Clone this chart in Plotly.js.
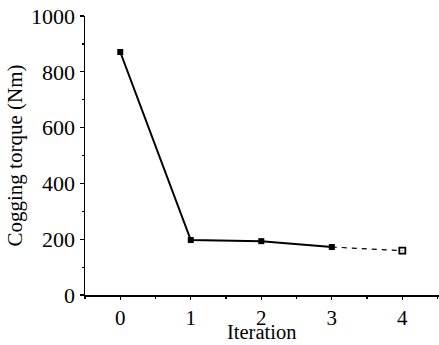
<!DOCTYPE html>
<html><head><meta charset="utf-8">
<script src="https://cdn.plot.ly/plotly-3.0.1.min.js"></script>
<style>html,body{margin:0;padding:0;background:#fff}#c{width:439px;height:345px}</style>
</head><body><div id="c"></div>
<script>
const iterSolid = [0, 1, 2, 3];
const torqueSolid = [871, 197, 193, 172];
const iterDashed = [3, 4];
const torqueDashed = [172, 159];
const xTicks = [0, 1, 2, 3, 4];
const yTicks = [0, 200, 400, 600, 800, 1000];

const font = {family: 'Liberation Serif, Times New Roman, serif', color: '#000'};
const data = [
  {x: iterSolid, y: torqueSolid, mode: 'lines+markers', type: 'scatter',
   line: {color: '#000', width: 2}, marker: {symbol: 'square', size: 6, color: '#000'}},
  {x: iterDashed, y: torqueDashed, mode: 'lines', type: 'scatter',
   line: {color: '#000', width: 1.2, dash: '5px,5px'}},
  {x: [iterDashed[1]], y: [torqueDashed[1]], mode: 'markers', type: 'scatter',
   marker: {symbol: 'square-open', size: 6, color: '#000', line: {width: 1.8}}}
];
const layout = {
  width: 439, height: 345, showlegend: false,
  paper_bgcolor: '#fff', plot_bgcolor: '#fff',
  margin: {l: 85, r: 0, t: 16, b: 50},
  font: font,
  xaxis: {range: [-0.5, 4.52], tickvals: xTicks, ticktext: xTicks.map(String),
    showgrid: false, zeroline: false, showline: true, linecolor: '#000', linewidth: 1.5,
    ticks: 'outside', ticklen: 3, tickwidth: 1.2, tickcolor: '#000',
    minor: {dtick: 0.5, tick0: 0, ticks: 'outside', ticklen: 2, tickcolor: '#000', showgrid: false},
    tickfont: {size: 21, family: font.family}},
  yaxis: {range: [0, 1000], tickvals: yTicks, ticktext: yTicks.map(String),
    showgrid: false, zeroline: false, showline: true, linecolor: '#000', linewidth: 1.5,
    ticks: 'outside', ticklen: 4, tickwidth: 1.2, tickcolor: '#000',
    minor: {dtick: 100, tick0: 0, ticks: 'outside', ticklen: 2, tickcolor: '#000', showgrid: false},
    tickfont: {size: 22, family: font.family},
    title: {text: 'Cogging torque (Nm)', font: {size: 21, family: font.family}, standoff: 2}},
  annotations: [{text: 'Iteration', xref: 'x', yref: 'paper', x: 2, y: 0, yshift: -50,
    xanchor: 'center', yanchor: 'bottom', showarrow: false,
    font: {size: 20.5, family: font.family, color: '#000'}}]
};
Plotly.newPlot('c', data, layout, {displayModeBar: false, staticPlot: true});
</script></body></html>
